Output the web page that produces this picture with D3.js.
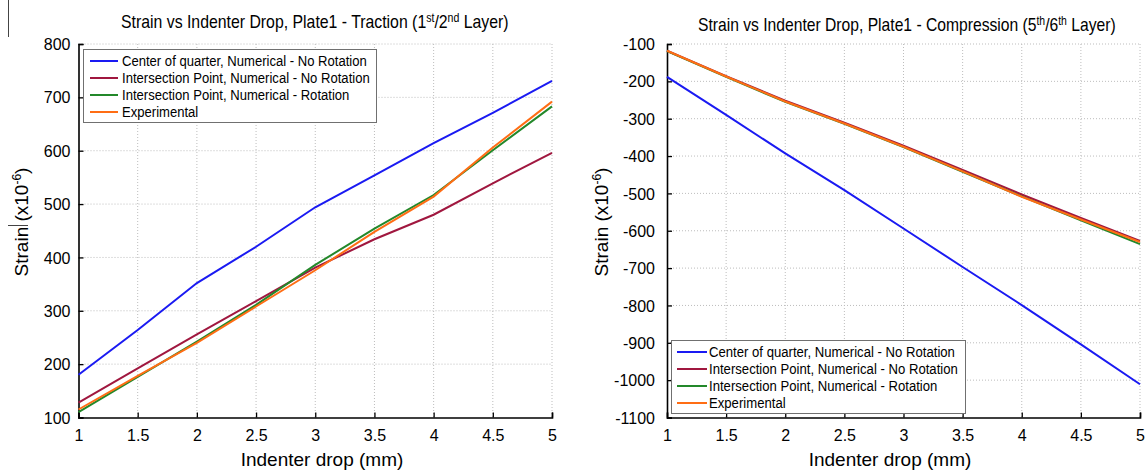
<!DOCTYPE html>
<html>
<head>
<meta charset="utf-8">
<title>Strain vs Indenter Drop</title>
<script src="https://d3js.org/d3.v7.min.js"></script>
<style>
body { margin: 0; background: #fff; }
text { font-family: "Liberation Sans", Arial, sans-serif; fill: #000; }
</style>
</head>
<body>
<script>

// indenter drop (mm)
var drops = [1, 1.5, 2, 2.5, 3, 3.5, 4, 4.5, 5];

var seriesNames = ["Center of quarter, Numerical - No Rotation",
                   "Intersection Point, Numerical - No Rotation",
                   "Intersection Point, Numerical - Rotation",
                   "Experimental"];

// plate 1 traction (1st/2nd layer), strain x10^-6
var tracCenter   = [180, 264, 352, 420, 494, 554, 614, 671, 731];
var tracInterNR  = [128, 192, 256, 318, 381, 434, 480, 539, 596];
var tracInterR   = [110, 176, 242, 311, 386, 454, 517, 601, 683];
var tracExp      = [115, 178, 240, 308, 376, 448, 514, 606, 692];

// plate 1 compression (5th/6th layer)
var compCenter   = [-188, -290, -393, -491, -594, -697, -799, -904, -1011];
var compInterNR  = [-118, -186, -252, -311, -372, -437, -503, -566, -627];
var compInterR   = [-119, -188, -255, -314, -376, -442, -508, -572, -636];
var compExp      = [-118, -187, -254, -313, -375, -441, -509, -570, -630];

var xTicks = [1, 1.5, 2, 2.5, 3, 3.5, 4, 4.5, 5];
var tracTicks = [100, 200, 300, 400, 500, 600, 700, 800];
var compTicks = [-1100, -1000, -900, -800, -700, -600, -500, -400, -300, -200, -100];

var colors = ["#1a1af2", "#a0173f", "#23882a", "#ff6d14"];

var svg = d3.select("body").append("svg")
	.attr("width", 1145)
	.attr("height", 473);

// stray crop marks from the original figure
svg.append("line").attr("x1", 8.5).attr("x2", 8.5).attr("y1", 0).attr("y2", 37)
	.attr("stroke", "#444").attr("stroke-width", 1);
svg.append("line").attr("x1", 8).attr("x2", 28).attr("y1", 225.5).attr("y2", 225.5)
	.attr("stroke", "#444").attr("stroke-width", 1);

// squeeze/stretch a text horizontally so it spans a given width
function fitWidth(t, x0, y0, w){
	var bw = t.node().getBBox().width;
	t.attr("transform", "translate(" + x0 + "," + y0 + ") scale(" + (w / bw) + ",1)");
}

function plain(d){ return String(d); }

function drawPanel(p){
	var x = d3.scaleLinear().domain([1, 5]).range([p.left, p.right]);
	var y = d3.scaleLinear().domain(p.yDomain).range([p.bottom, p.top]);
	var g = svg.append("g");

	// grid
	g.selectAll(".vg").data(xTicks.slice(1)).enter().append("line")
		.attr("x1", function(d){ return x(d); }).attr("x2", function(d){ return x(d); })
		.attr("y1", p.top).attr("y2", p.bottom)
		.attr("stroke", "#bdbdbd").attr("stroke-width", 1).attr("stroke-dasharray", "1,2");
	g.selectAll(".hg").data(p.yTicks.slice(1)).enter().append("line")
		.attr("x1", p.left).attr("x2", p.right)
		.attr("y1", function(d){ return y(d); }).attr("y2", function(d){ return y(d); })
		.attr("stroke", "#bdbdbd").attr("stroke-width", 1).attr("stroke-dasharray", "1,2");

	// axes
	var xa = g.append("g").attr("transform", "translate(0," + p.bottom + ")")
		.call(d3.axisBottom(x).tickValues(xTicks).tickSize(-5).tickPadding(12).tickFormat(plain));
	var ya = g.append("g").attr("transform", "translate(" + p.left + ",0)")
		.call(d3.axisLeft(y).tickValues(p.yTicks).tickSize(-5).tickPadding(p.yPad).tickFormat(plain));
	[xa, ya].forEach(function(a){
		a.select(".domain").attr("stroke", "#000").attr("stroke-width", 1.6);
		a.selectAll(".tick line").attr("stroke", "#000").attr("stroke-width", 1.3);
		a.selectAll(".tick text").style("font-size", "16px")
			.style("font-family", "'Liberation Sans', Arial, sans-serif").attr("fill", "#000");
	});
	ya.selectAll(".tick text").attr("dy", "0.35em");

	// curves
	var line = d3.line()
		.x(function(d, i){ return x(drops[i]); })
		.y(function(d){ return y(d); });
	p.series.forEach(function(s, k){
		g.append("path").datum(s)
			.attr("d", line)
			.attr("fill", "none")
			.attr("stroke", colors[k])
			.attr("stroke-width", 2);
	});

	// title
	var t = g.append("text").style("font-size", "18px");
	t.append("tspan").text(p.title[0]);
	t.append("tspan").attr("baseline-shift", "super").style("font-size", "12px").text(p.title[1]);
	t.append("tspan").text("/" + p.title[2]);
	t.append("tspan").attr("baseline-shift", "super").style("font-size", "12px").text(p.title[3]);
	t.append("tspan").text(p.title[4]);
	fitWidth(t, p.titleX[0], p.titleY, p.titleX[1] - p.titleX[0]);

	// x label
	g.append("text")
		.attr("x", p.xLabelX).attr("y", 466)
		.attr("text-anchor", "middle")
		.style("font-size", "19px")
		.text("Indenter drop (mm)");

	// y label
	var yl = g.append("text")
		.attr("transform", "translate(" + p.yLabelX + ",222) rotate(-90)")
		.attr("text-anchor", "middle")
		.style("font-size", "19px");
	yl.append("tspan").text("Strain (x10");
	yl.append("tspan").attr("baseline-shift", "super").style("font-size", "12px").text("-6");
	yl.append("tspan").text(")");

	// legend
	var L = p.legend;
	g.append("rect")
		.attr("x", L.x0 + 0.5).attr("y", L.y0 + 0.5)
		.attr("width", L.x1 - L.x0).attr("height", L.y1 - L.y0)
		.attr("fill", "#fff").attr("stroke", "#707070").attr("stroke-width", 1);
	var entries = [];
	seriesNames.forEach(function(name, k){
		var cy = L.rows[k];
		g.append("line")
			.attr("x1", L.lx0).attr("x2", L.lx1).attr("y1", cy).attr("y2", cy)
			.attr("stroke", colors[k]).attr("stroke-width", 2);
		entries.push(g.append("text")
			.attr("x", 0).attr("y", 0).attr("dy", "0.36em")
			.style("font-size", "14.5px")
			.text(name));
	});
	// same horizontal squeeze for every entry, taken from the first one
	var sx = L.w / entries[0].node().getBBox().width;
	entries.forEach(function(e, k){
		e.attr("transform", "translate(" + L.tx + "," + L.rows[k] + ") scale(" + sx + ",1)");
	});
}

drawPanel({
	left: 78.5, right: 552, top: 44, bottom: 417.5,
	yDomain: [100, 800], yTicks: tracTicks, yPad: 8,
	series: [tracCenter, tracInterNR, tracInterR, tracExp],
	title: ["Strain vs Indenter Drop, Plate1 - Traction (1", "st", "2", "nd", " Layer)"],
	titleX: [121, 509], titleY: 28,
	xLabelX: 322, yLabelX: 28,
	legend: { x0: 83, y0: 49, x1: 376, y1: 122, lx0: 90, lx1: 118, tx: 122, w: 245,
	          rows: [61, 78, 95, 112] }
});

drawPanel({
	left: 667, right: 1140, top: 44, bottom: 417.5,
	yDomain: [-1100, -100], yTicks: compTicks, yPad: 12,
	series: [compCenter, compInterNR, compInterR, compExp],
	title: ["Strain vs Indenter Drop, Plate1 - Compression (5", "th", "6", "th", " Layer)"],
	titleX: [698, 1116], titleY: 31,
	xLabelX: 890, yLabelX: 608,
	legend: { x0: 671, y0: 340, x1: 965, y1: 413, lx0: 677, lx1: 707, tx: 709, w: 246,
	          rows: [352, 369, 386, 403] }
});

</script>
</body>
</html>
